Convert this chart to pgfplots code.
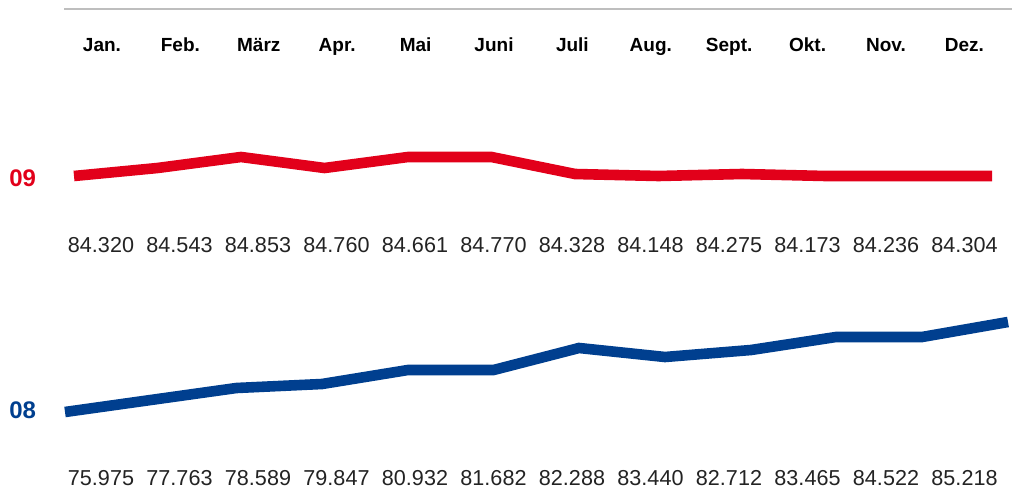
\documentclass[border=0pt]{standalone}
\usepackage{pgfplots}
\pgfplotsset{compat=1.18}
\usepackage{fontspec}
\setmainfont{Liberation Sans}
\definecolor{cred}{RGB}{226,0,26}
\definecolor{cblue}{RGB}{0,63,143}
\definecolor{cgray}{RGB}{190,190,190}
\definecolor{ctext}{RGB}{35,35,35}
\begin{document}
\begin{tikzpicture}[x=0.5pt,y=0.5pt]
\begin{axis}[
  scale only axis, width=506pt, height=246pt,
  xmin=0, xmax=1012, ymin=0, ymax=492, y dir=reverse,
  hide axis, clip mode=individual,
]
\path (axis cs:0,0) rectangle (axis cs:1012,492);
% top rule
\addplot[cgray, line width=0.75pt] coordinates {(64,9) (1012,9)};
% 09 (red) line, positions as drawn
\addplot[cred, line width=5.3pt] coordinates {
(74,176) (157.5,168) (241,157) (324.5,168) (408,157) (491.5,157)
(575,174) (658.5,176) (742,174) (825.5,176) (909,176) (992,176)};
% 08 (blue) line, positions as drawn
\addplot[cblue, line width=5.3pt] coordinates {
(65,412) (150.7,400) (236.5,388) (322,384) (408,370) (493.6,370)
(579,348) (665,357) (751,350) (836,337) (922,337) (1008,322)};
% series labels
\node[anchor=base west, text=cred, font=\fontsize{12}{14}\selectfont\bfseries, inner sep=0pt] at (axis cs:9,186) {09};
\node[anchor=base west, text=cblue, font=\fontsize{12}{14}\selectfont\bfseries, inner sep=0pt] at (axis cs:9,418) {08};
% month labels and values
\foreach \m/\a/\b [count=\i from 0] in {Jan./84.320/75.975, Feb./84.543/77.763, März/84.853/78.589, Apr./84.760/79.847, Mai/84.661/80.932, Juni/84.770/81.682, Juli/84.328/82.288, Aug./84.148/83.440, Sept./84.275/82.712, Okt./84.173/83.465, Nov./84.236/84.522, Dez./84.304/85.218}{
  \edef\temp{\noexpand\node[anchor=base, font=\noexpand\fontsize{9.5}{11}\noexpand\selectfont\noexpand\bfseries, text=black, inner sep=0pt] at (axis cs:{102+78.4*\i},52) {\m};
  \noexpand\node[anchor=base, font=\noexpand\fontsize{10.8}{12}\noexpand\selectfont, text=ctext, inner sep=0pt] at (axis cs:{101+78.5*\i},252) {\a};
  \noexpand\node[anchor=base, font=\noexpand\fontsize{10.8}{12}\noexpand\selectfont, text=ctext, inner sep=0pt] at (axis cs:{101+78.5*\i},485) {\b};}
  \temp
}
\end{axis}
\end{tikzpicture}
\end{document}
